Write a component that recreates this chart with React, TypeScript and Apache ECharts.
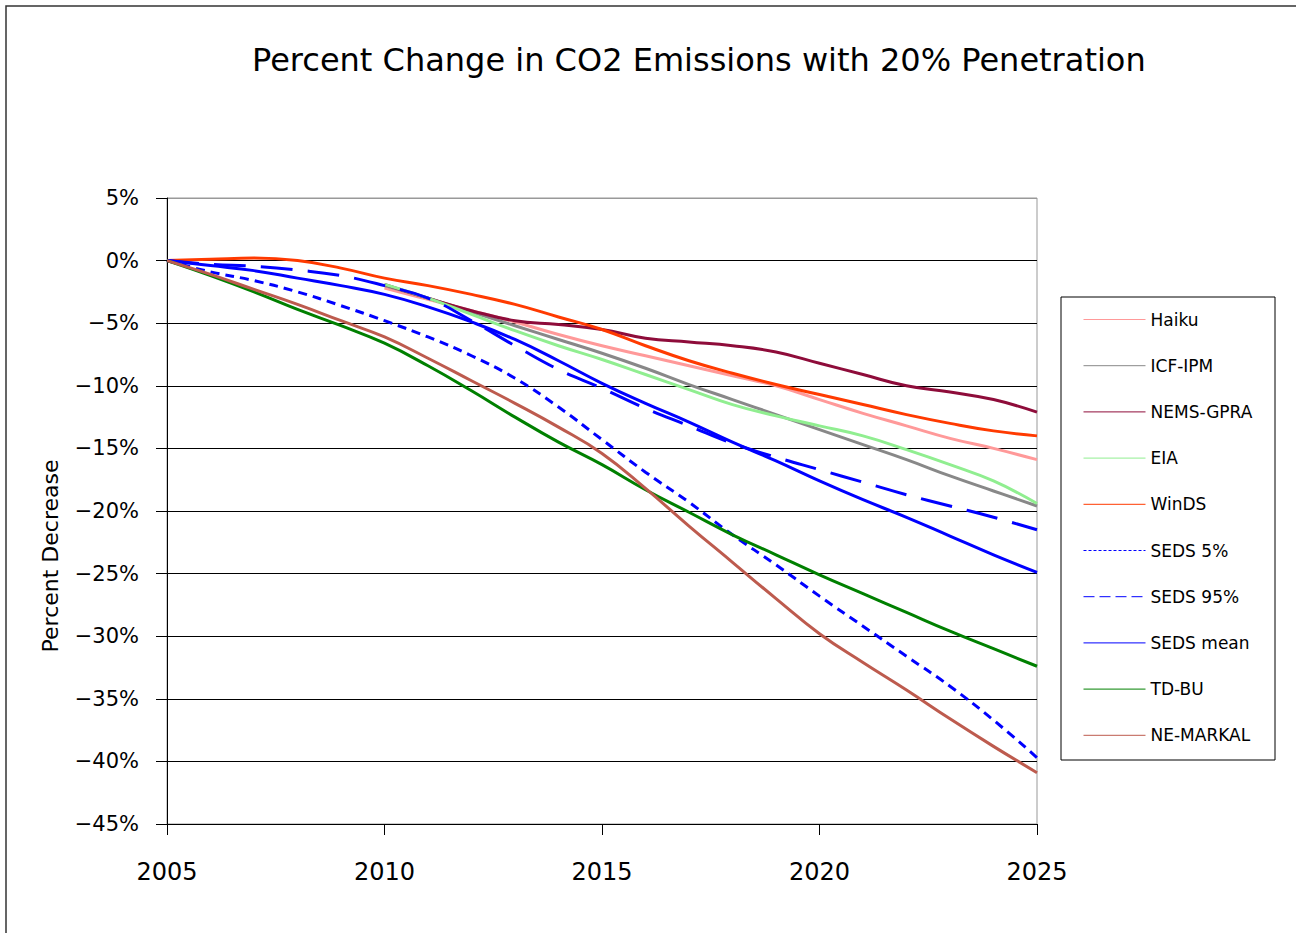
import React, { useEffect, useRef } from "react";
import * as echarts from "echarts";

const years = [2005, 2006, 2007, 2008, 2009, 2010, 2011, 2012, 2013, 2014, 2015, 2016, 2017, 2018, 2019, 2020, 2021, 2022, 2023, 2024, 2025];

const haiku = [null, null, null, null, null, -2.2, -3.1, -4.0, -4.9, -5.9, -6.8, -7.6, -8.4, -9.2, -10.0, -11.1, -12.2, -13.2, -14.2, -15.0, -15.9];
const icfIpm = [null, null, null, null, null, -2.0, -3.0, -4.1, -5.2, -6.3, -7.4, -8.6, -9.9, -11.1, -12.3, -13.5, -14.7, -15.9, -17.2, -18.4, -19.6];
const nemsGpra = [null, null, null, null, null, -1.9, -3.0, -4.0, -4.8, -5.1, -5.5, -6.2, -6.5, -6.8, -7.3, -8.2, -9.1, -10.0, -10.5, -11.1, -12.1];
const eia = [null, null, null, null, null, -1.9, -3.0, -4.3, -5.6, -6.8, -7.9, -9.1, -10.3, -11.5, -12.4, -13.2, -14.0, -15.1, -16.3, -17.6, -19.4];
const winDS = [0, 0.1, 0.2, 0, -0.6, -1.4, -2.0, -2.7, -3.5, -4.5, -5.5, -6.8, -8.0, -9.0, -9.9, -10.7, -11.5, -12.3, -13.0, -13.6, -14.0];
const seds5 = [0, -0.9, -1.6, -2.5, -3.6, -4.8, -6.1, -7.6, -9.4, -11.7, -14.3, -16.9, -19.3, -21.9, -24.3, -26.8, -29.2, -31.6, -34.0, -36.7, -39.7];
const seds95 = [0, -0.3, -0.45, -0.75, -1.2, -2.0, -3.0, -4.8, -6.8, -8.7, -10.2, -11.8, -13.2, -14.6, -15.7, -16.7, -17.7, -18.7, -19.6, -20.5, -21.5];
const sedsMean = [0, -0.4, -0.8, -1.4, -2.0, -2.7, -3.7, -4.9, -6.3, -8.0, -9.8, -11.4, -12.9, -14.5, -16.0, -17.6, -19.1, -20.5, -22.0, -23.5, -24.9];
const tdBu = [0, -1.2, -2.5, -3.9, -5.2, -6.6, -8.4, -10.4, -12.5, -14.5, -16.3, -18.3, -20.1, -21.9, -23.5, -25.1, -26.6, -28.1, -29.6, -31.0, -32.4];
const neMarkal = [0, -1.1, -2.3, -3.5, -4.8, -6.1, -7.8, -9.6, -11.4, -13.3, -15.4, -18.2, -21.2, -24.1, -27.0, -29.8, -32.1, -34.3, -36.6, -38.8, -40.9];

const seriesNames = ["Haiku", "ICF-IPM", "NEMS-GPRA", "EIA", "WinDS", "SEDS 5%", "SEDS 95%", "SEDS mean", "TD-BU", "NE-MARKAL"];
const seriesValues = [haiku, icfIpm, nemsGpra, eia, winDS, seds5, seds95, sedsMean, tdBu, neMarkal];
const seriesColors = ["#FF9999", "#888888", "#8E0C3A", "#90EE90", "#FF3A00", "#0000FF", "#0000FF", "#0000FF", "#008000", "#BD5B4E"];
const seriesDash: any[] = ["solid", "solid", "solid", "solid", "solid", [9, 6], [32, 15], "solid", "solid", "solid"];
const legendDash: any[] = ["solid", "solid", "solid", "solid", "solid", [3, 2], [11, 5], "solid", "solid", "solid"];

const titleText = "Percent Change in CO2 Emissions with 20% Penetration";
const yAxisTitle = "Percent Decrease";
const FONT = "DejaVu Sans";

export default function App() {
  const ref = useRef<HTMLDivElement>(null);
  useEffect(() => {
    if (!ref.current) return;
    const chart = echarts.init(ref.current, undefined, { renderer: "svg" });
    const splitColors = Array.from({ length: 11 }, (_, i) => (i === 10 ? "#999999" : "#000000"));
    chart.setOption({
      animation: false,
      backgroundColor: "#ffffff",
      title: {
        text: titleText,
        left: 247,
        top: 39,
        textStyle: { fontSize: 32, fontWeight: "normal", fontFamily: FONT, color: "#000" },
      },
      grid: {
        left: 167,
        top: 198,
        right: 259,
        bottom: 109,
        show: true,
        borderColor: "#999999",
        borderWidth: 1,
        backgroundColor: "transparent",
      },
      legend: {
        orient: "vertical",
        left: 1083,
        top: 311,
        padding: 0,
        itemWidth: 62,
        itemHeight: 14,
        itemGap: 29.2,
        z: 5,
        textStyle: { fontSize: 17, fontFamily: FONT, color: "#000", lineHeight: 14 },
        data: seriesNames.map((n, i) => ({
          name: n,
          itemStyle: { opacity: 0 },
          lineStyle: { width: 1, type: legendDash[i], opacity: 1 },
        })),
      },
      xAxis: {
        type: "value",
        min: 2005,
        max: 2025,
        interval: 5,
        axisLine: { show: true, onZero: false, lineStyle: { color: "#000", width: 1 } },
        axisTick: { show: true, length: 11, lineStyle: { color: "#000" } },
        splitLine: { show: false },
        axisLabel: {
          margin: 36,
          fontSize: 24,
          fontFamily: FONT,
          color: "#000",
          formatter: (v: number) => String(v),
        },
      },
      yAxis: {
        type: "value",
        min: -45,
        max: 5,
        interval: 5,
        axisLine: { show: true, onZero: false, lineStyle: { color: "#000", width: 1 } },
        axisTick: { show: true, length: 11, lineStyle: { color: "#000" } },
        splitLine: { show: true, lineStyle: { color: splitColors, width: 1 } },
        axisLabel: {
          margin: 28,
          fontSize: 21,
          fontFamily: FONT,
          color: "#000",
          formatter: (v: number) => (v < 0 ? "\u2212" + Math.abs(v) : String(v)) + "%",
        },
      },
      graphic: [
        {
          type: "rect",
          z: 0,
          shape: { x: 6, y: 6, width: 1400, height: 1000 },
          style: { fill: "none", stroke: "#333", lineWidth: 1.5 },
        },
        {
          type: "rect",
          z: 1,
          shape: { x: 1061, y: 297, width: 214, height: 463 },
          style: { fill: "#fff", stroke: "#000", lineWidth: 1 },
        },
        {
          type: "text",
          z: 1,
          x: 50,
          y: 556,
          rotation: Math.PI / 2,
          style: {
            text: yAxisTitle,
            fontSize: 22,
            fontFamily: FONT,
            fill: "#000",
            align: "center",
            verticalAlign: "middle",
          },
        },
      ],
      series: seriesNames.map((n, i) => ({
        name: n,
        type: "line",
        smooth: 0.45,
        symbol: "none",
        showSymbol: false,
        connectNulls: false,
        color: seriesColors[i],
        lineStyle: { width: 3, color: seriesColors[i], type: seriesDash[i] },
        data: years.map((y, k) => [y, seriesValues[i][k]]),
      })),
    });
    return () => chart.dispose();
  }, []);
  return (
    <div
      ref={ref}
      style={{ position: "fixed", left: 0, top: 0, width: 1296, height: 933, background: "#fff" }}
    />
  );
}
